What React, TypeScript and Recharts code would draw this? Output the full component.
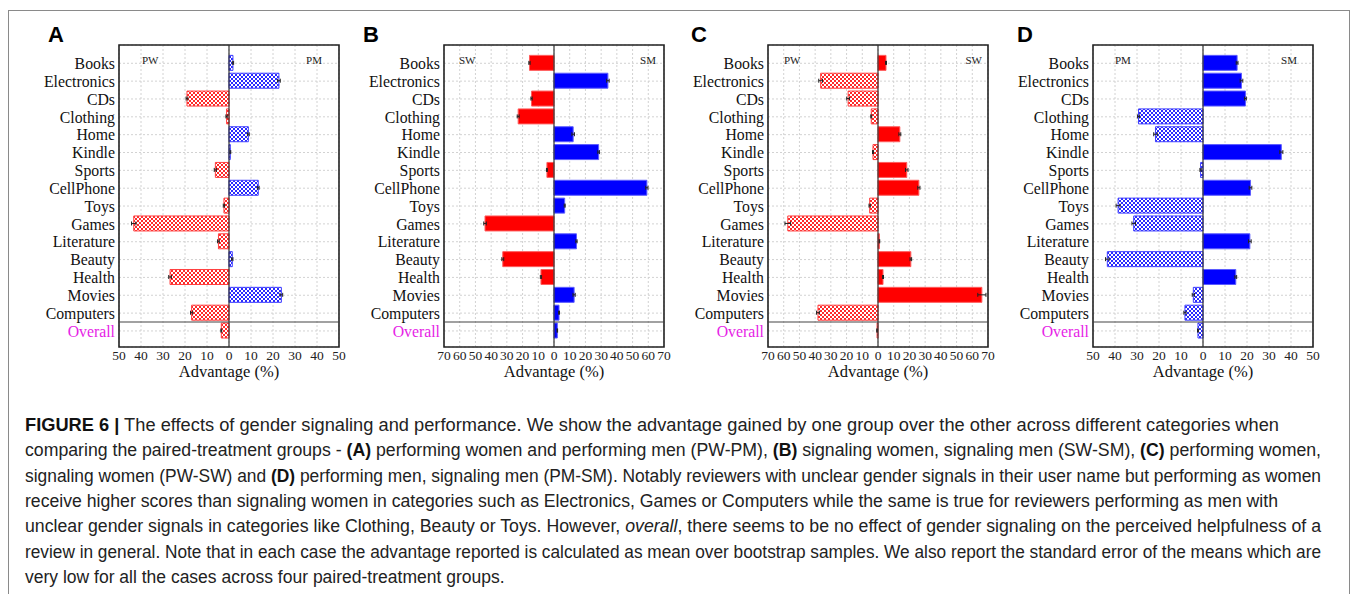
import React from "react";
import {
  BarChart,
  Bar,
  XAxis,
  YAxis,
  CartesianGrid,
  ReferenceLine,
  ReferenceArea,
  ErrorBar,
  Cell,
} from "recharts";

// ---------- data ----------
const categories = [
  "Books", "Electronics", "CDs", "Clothing", "Home", "Kindle", "Sports", "CellPhone",
  "Toys", "Games", "Literature", "Beauty", "Health", "Movies", "Computers", "Overall",
];

// A: PW (negative) vs PM (positive)
const valuesA = [1.8, 22.7, -19.1, -1.1, 8.8, 0.6, -6.2, 13.3, -2.3, -43.3, -4.8, 1.5, -26.8, 23.8, -17.0, -3.5];
const errorsA = [0.3, 0.6, 0.4, 0.3, 0.4, 0.2, 0.5, 0.4, 0.3, 1.0, 0.4, 0.3, 0.6, 0.6, 0.5, 0.2];
// B: SW (negative) vs SM (positive)
const valuesB = [-15.6, 34.3, -14.3, -22.8, 12.2, 28.4, -4.5, 59.1, 6.8, -43.9, 14.3, -32.6, -8.3, 12.8, 3.2, 2.1];
const errorsB = [0.4, 0.8, 0.4, 0.6, 0.8, 0.5, 0.3, 0.7, 0.3, 0.8, 0.4, 0.6, 0.4, 0.7, 0.3, 0.2];
// C: PW (negative) vs SW (positive)
const valuesC = [5.1, -36.5, -19.0, -4.3, 13.9, -3.2, 18.3, 26.0, -5.3, -57.4, 0.9, 20.9, 3.2, 66.1, -38.2, -0.6];
const errorsC = [0.3, 1.2, 0.9, 0.3, 0.6, 0.3, 0.8, 0.7, 0.4, 1.8, 0.2, 0.5, 0.3, 2.6, 0.9, 0.2];
// D: PM (negative) vs SM (positive)
const valuesD = [15.5, 17.5, 19.3, -29.3, -21.6, 35.6, -1.1, 21.6, -38.6, -31.5, 21.3, -43.5, 14.9, -4.4, -8.2, -2.3];
const errorsD = [0.4, 0.6, 0.4, 0.5, 0.8, 0.7, 0.3, 0.6, 0.9, 0.8, 0.6, 0.8, 0.4, 0.5, 0.5, 0.2];

const ticks50 = [-50, -40, -30, -20, -10, 0, 10, 20, 30, 40, 50];
const ticks70 = [-70, -60, -50, -40, -30, -20, -10, 0, 10, 20, 30, 40, 50, 60, 70];

const panelLetters = ["A", "B", "C", "D"];
const sideLabels = [
  ["PW", "PM"],
  ["SW", "SM"],
  ["PW", "SW"],
  ["PM", "SM"],
];
const axisTitle = "Advantage (%)";

// ---------- styles ----------
const RED = "#ff0000";
const BLUE = "#0000ff";
const MAGENTA = "#e61ee6";
const SERIF = "'Liberation Serif', 'Times New Roman', serif";
const SANS = "'Liberation Sans', Arial, Helvetica, sans-serif";

const Y_DOMAIN: [number, number] = [-1.025, 15.9];
const yTicks = categories.map((_, i) => i);

type PanelCfg = {
  values: number[];
  errors: number[];
  ticks: number[];
  negColor: string;
  posColor: string;
  negHatched: boolean;
  posHatched: boolean;
  plotLeft: number;
  letterX: number;
  leftLabelOffset: number;
  rightLabelOffset: number;
};

const panels: PanelCfg[] = [
  { values: valuesA, errors: errorsA, ticks: ticks50, negColor: "red", posColor: "blue", negHatched: true, posHatched: true, plotLeft: 119, letterX: 48, leftLabelOffset: 23, rightLabelOffset: 17 },
  { values: valuesB, errors: errorsB, ticks: ticks70, negColor: "red", posColor: "blue", negHatched: false, posHatched: false, plotLeft: 444, letterX: 363, leftLabelOffset: 15, rightLabelOffset: 8 },
  { values: valuesC, errors: errorsC, ticks: ticks70, negColor: "red", posColor: "red", negHatched: true, posHatched: false, plotLeft: 768, letterX: 691, leftLabelOffset: 16, rightLabelOffset: 6 },
  { values: valuesD, errors: errorsD, ticks: ticks50, negColor: "blue", posColor: "blue", negHatched: true, posHatched: false, plotLeft: 1093, letterX: 1017, leftLabelOffset: 22, rightLabelOffset: 16 },
];

const PLOT_W = 220;
const PLOT_TOP = 45;
const PLOT_H = 302;
const Y_AXIS_W = 85;
const M_LEFT = 5;
const M_RIGHT = 10;
const X_AXIS_H = 40;
const M_BOTTOM = 5;
const CHART_W = M_LEFT + Y_AXIS_W + PLOT_W + M_RIGHT;
const CHART_H = PLOT_TOP + PLOT_H + X_AXIS_H + M_BOTTOM;

function fillFor(color: string, hatched: boolean) {
  if (hatched) return color === "red" ? "url(#checkRed)" : "url(#checkBlue)";
  return color === "red" ? RED : BLUE;
}
function strokeFor(color: string, hatched: boolean) {
  if (hatched) return color === "red" ? "#ff4040" : "#4040ff";
  return color === "red" ? "#ff5c5c" : "#5c5cff";
}

const CatTick = (props: any) => {
  const { x, y, payload } = props;
  const name = categories[payload.value];
  return (
    <text
      x={x}
      y={y}
      dy="0.36em"
      textAnchor="end"
      fontFamily={SERIF}
      fontSize={15.8}
      fill={name === "Overall" ? MAGENTA : "#111"}
    >
      {name}
    </text>
  );
};

const NumTick = (props: any) => {
  const { x, y, payload } = props;
  return (
    <text x={x} y={y} dy="0.71em" textAnchor="middle" fontFamily={SERIF} fontSize={13.5} fill="#222">
      {Math.abs(payload.value)}
    </text>
  );
};

const AxisTitle = (props: any) => {
  const vb = props.viewBox || {};
  return (
    <text
      x={vb.x + vb.width / 2}
      y={vb.y + 29.5}
      textAnchor="middle"
      fontFamily={SERIF}
      fontSize={16.5}
      fill="#111"
    >
      {axisTitle}
    </text>
  );
};

function Panel({ cfg, idx }: { cfg: PanelCfg; idx: number }) {
  const data = categories.map((name, i) => ({ idx: i, name, v: cfg.values[i], e: cfg.errors[i] }));
  const xMin = cfg.ticks[0];
  const xMax = cfg.ticks[cfg.ticks.length - 1];
  const chartLeft = cfg.plotLeft - M_LEFT - Y_AXIS_W;
  return (
    <>
      <div
        style={{
          position: "absolute",
          left: cfg.letterX,
          top: 24,
          fontFamily: SANS,
          fontWeight: 700,
          fontSize: 22,
          lineHeight: "22px",
          color: "#000",
        }}
      >
        {panelLetters[idx]}
      </div>
      <div style={{ position: "absolute", left: chartLeft, top: 0, width: CHART_W, height: CHART_H }}>
        <BarChart
          width={CHART_W}
          height={CHART_H}
          data={data}
          layout="vertical"
          margin={{ top: PLOT_TOP, right: M_RIGHT, bottom: M_BOTTOM, left: M_LEFT }}
        >
          <CartesianGrid stroke="#d2d2d2" strokeDasharray="2 2" />
          <XAxis
            type="number"
            dataKey="v"
            domain={[xMin, xMax]}
            ticks={cfg.ticks}
            interval={0}
            allowDataOverflow
            tickLine={false}
            axisLine={false}
            tickSize={1}
            tickMargin={2}
            height={X_AXIS_H}
            tick={<NumTick />}
            label={<AxisTitle />}
          />
          <YAxis
            type="number"
            dataKey="idx"
            domain={Y_DOMAIN}
            ticks={yTicks}
            interval={0}
            allowDataOverflow
            tickLine={false}
            axisLine={false}
            tickSize={2}
            tickMargin={2}
            width={Y_AXIS_W}
            tick={<CatTick />}
          />
          <Bar dataKey="v" barSize={15} isAnimationActive={false} strokeWidth={1}>
            {data.map((d, i) => {
              const neg = d.v < 0;
              const color = neg ? cfg.negColor : cfg.posColor;
              const hatched = neg ? cfg.negHatched : cfg.posHatched;
              return <Cell key={i} fill={fillFor(color, hatched)} stroke={strokeFor(color, hatched)} />;
            })}
            <ErrorBar dataKey="e" direction="x" width={2} stroke="#222" strokeWidth={1} />
          </Bar>
          <ReferenceLine x={0} stroke="#333" strokeWidth={1.2} ifOverflow="extendDomain" />
          <ReferenceLine y={14.5} stroke="#444" strokeWidth={1.2} />
          <ReferenceArea
            x1={xMin}
            x2={xMax}
            y1={Y_DOMAIN[0]}
            y2={Y_DOMAIN[1]}
            fill="none"
            fillOpacity={0}
            stroke="#222"
            strokeWidth={1.6}
          />
        </BarChart>
      </div>
      <div
        style={{
          position: "absolute",
          left: cfg.plotLeft + cfg.leftLabelOffset,
          top: 53,
          fontFamily: SERIF,
          fontSize: 11,
          lineHeight: "14px",
          color: "#222",
        }}
      >
        {sideLabels[idx][0]}
      </div>
      <div
        style={{
          position: "absolute",
          left: cfg.plotLeft + PLOT_W - cfg.rightLabelOffset - 40,
          width: 40,
          textAlign: "right",
          top: 53,
          fontFamily: SERIF,
          fontSize: 11,
          lineHeight: "14px",
          color: "#222",
        }}
      >
        {sideLabels[idx][1]}
      </div>
    </>
  );
}

type Seg = { t: string; b?: boolean; i?: boolean };
const captionLines: Seg[][] = [
  [{ t: "FIGURE 6 |", b: true }, { t: " The effects of gender signaling and performance. We show the advantage gained by one group over the other across different categories when" }],
  [
    { t: "comparing the paired-treatment groups - " },
    { t: "(A)", b: true },
    { t: " performing women and performing men (PW-PM), " },
    { t: "(B)", b: true },
    { t: " signaling women, signaling men (SW-SM), " },
    { t: "(C)", b: true },
    { t: " performing women," },
  ],
  [
    { t: "signaling women (PW-SW) and " },
    { t: "(D)", b: true },
    { t: " performing men, signaling men (PM-SM). Notably reviewers with unclear gender signals in their user name but performing as women" },
  ],
  [{ t: "receive higher scores than signaling women in categories such as Electronics, Games or Computers while the same is true for reviewers performing as men with" }],
  [
    { t: "unclear gender signals in categories like Clothing, Beauty or Toys. However, " },
    { t: "overall", i: true },
    { t: ", there seems to be no effect of gender signaling on the perceived helpfulness of a" },
  ],
  [{ t: "review in general. Note that in each case the advantage reported is calculated as mean over bootstrap samples. We also report the standard error of the means which are" }],
  [{ t: "very low for all the cases across four paired-treatment groups." }],
];
const captionLineEnds = [1279, 1321, 1321, 1278, 1321, 1321, 0];

function Caption() {
  const x0 = 25;
  return (
    <svg width={1354} height={594} style={{ position: "absolute", left: 0, top: 0 }}>
      {captionLines.map((segs, li) => {
        const end = captionLineEnds[li];
        const extra = end > 0 ? { textLength: end - x0, lengthAdjust: "spacingAndGlyphs" } : {};
        return (
          <text
            key={li}
            x={x0}
            y={431 + li * 25.3}
            fontFamily={SANS}
            fontSize={17.5}
            fill="#222"
            {...(extra as any)}
          >
            {segs.map((s, si) => (
              <tspan key={si} fontWeight={s.b ? 700 : 400} fontStyle={s.i ? "italic" : "normal"} fill={s.b ? "#111" : "#222"}>
                {s.t}
              </tspan>
            ))}
          </text>
        );
      })}
    </svg>
  );
}

export default function App() {
  return (
    <div
      style={{
        position: "absolute",
        left: 0,
        top: 0,
        width: 1354,
        height: 594,
        overflow: "hidden",
        background: "#fff",
      }}
    >
      <svg width={0} height={0} style={{ position: "absolute" }}>
        <defs>
          <pattern id="checkRed" width={4} height={4} patternUnits="userSpaceOnUse">
            <rect width={4} height={4} fill="#ffffff" />
            <rect width={2} height={2} fill="#ff2a2a" />
            <rect x={2} y={2} width={2} height={2} fill="#ff2a2a" />
          </pattern>
          <pattern id="checkBlue" width={4} height={4} patternUnits="userSpaceOnUse">
            <rect width={4} height={4} fill="#ffffff" />
            <rect width={2} height={2} fill="#2a2aff" />
            <rect x={2} y={2} width={2} height={2} fill="#2a2aff" />
          </pattern>
        </defs>
      </svg>
      <div
        style={{
          position: "absolute",
          left: 8,
          top: 10,
          width: 1340,
          height: 620,
          border: "1px solid #8a8a8a",
        }}
      />
      {panels.map((p, i) => (
        <Panel key={i} cfg={p} idx={i} />
      ))}
      <Caption />
    </div>
  );
}
